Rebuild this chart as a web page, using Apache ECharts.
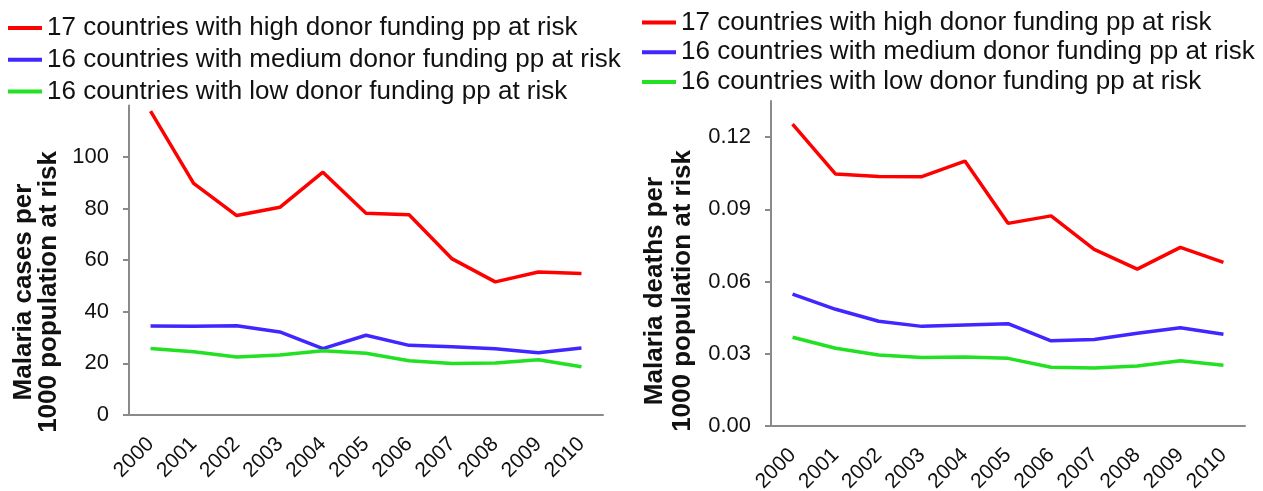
<!DOCTYPE html>
<html>
<head>
<meta charset="utf-8">
<script src="https://cdn.jsdelivr.net/npm/echarts@6/dist/echarts.min.js"></script>
<style>
html,body{margin:0;padding:0;background:#fff;}
#c{width:1263px;height:491px;}
</style>
</head>
<body>
<div id="c"></div>
<script>
const years = ['2000','2001','2002','2003','2004','2005','2006','2007','2008','2009','2010'];
const seriesNames = [
  '17 countries with high donor funding pp at risk',
  '16 countries with medium donor funding pp at risk',
  '16 countries with low donor funding pp at risk'
];
// Malaria cases per 1000 population at risk
const casesHigh   = [117.8, 89.8, 77.3, 80.5, 94.1, 78.2, 77.6, 60.5, 51.6, 55.4, 54.8];
const casesMedium = [34.5, 34.4, 34.6, 32.2, 25.7, 30.9, 27.0, 26.5, 25.7, 24.1, 26.0];
const casesLow    = [25.8, 24.5, 22.5, 23.3, 24.9, 23.9, 21.0, 20.0, 20.2, 21.4, 18.7];
// Malaria deaths per 1000 population at risk
const deathsHigh   = [0.1254, 0.1047, 0.1037, 0.1036, 0.1101, 0.0842, 0.0873, 0.0734, 0.0652, 0.0742, 0.0680];
const deathsMedium = [0.0548, 0.0485, 0.0435, 0.0414, 0.0420, 0.0425, 0.0354, 0.0359, 0.0385, 0.0408, 0.0381];
const deathsLow    = [0.0369, 0.0323, 0.0295, 0.0285, 0.0287, 0.0281, 0.0244, 0.0241, 0.0249, 0.0271, 0.0252];
const leftTitle = 'Malaria cases per\n1000 population at risk';
const rightTitle = 'Malaria deaths per\n1000 population at risk';

const colors = ['#ff0000', '#4026ff', '#22e022'];
const FONT = 'Liberation Sans, Arial, Helvetica, sans-serif';

const chart = echarts.init(document.getElementById('c'));

function xAxis(gi) {
  return {
    type: 'category', gridIndex: gi, data: years, boundaryGap: true,
    axisLine: {lineStyle: {color: '#8a8a8a', width: 2}},
    axisTick: {show: false},
    axisLabel: {rotate: 45, fontSize: 21, color: '#111', fontFamily: FONT, margin: 26, interval: 0}
  };
}
function yAxis(gi, max, interval, fmt) {
  return {
    type: 'value', gridIndex: gi, min: 0, max: max, interval: interval,
    splitLine: {show: false},
    axisLine: {show: true, lineStyle: {color: '#8a8a8a', width: 2}},
    axisTick: {show: true, length: 6, lineStyle: {color: '#8a8a8a', width: 2}},
    axisLabel: {fontSize: 22, color: '#111', fontFamily: FONT, margin: 20, showMaxLabel: false, formatter: fmt}
  };
}
function line(name, data, ci, gi) {
  return {
    name: name, type: 'line', data: data, xAxisIndex: gi, yAxisIndex: gi,
    symbol: 'none', lineStyle: {color: colors[ci], width: 3.5}, itemStyle: {color: colors[ci]},
    animation: false
  };
}
function legend(left, top, gap) {
  return {
    orient: 'vertical', left: left, top: top, itemGap: gap, padding: 0,
    icon: 'rect', itemWidth: 34, itemHeight: 4,
    textStyle: {fontSize: 26, color: '#111', fontFamily: FONT, lineHeight: 28},
    data: seriesNames
  };
}

chart.setOption({
  backgroundColor: '#fff',
  animation: false,
  legend: [legend(8, 14, 3.7), legend(642, 8.5, 1.7)],
  grid: [
    {left: 129, top: 105.4, width: 474, bottom: 76, containLabel: false, outerBoundsMode: 'none'},
    {left: 771, top: 101.1, width: 474, bottom: 65, containLabel: false, outerBoundsMode: 'none'}
  ],
  xAxis: [xAxis(0), xAxis(1)],
  yAxis: [
    yAxis(0, 120, 20, v => String(v)),
    yAxis(1, 0.135, 0.03, v => v.toFixed(2))
  ],
  series: [
    line(seriesNames[0], casesHigh, 0, 0),
    line(seriesNames[1], casesMedium, 1, 0),
    line(seriesNames[2], casesLow, 2, 0),
    line(seriesNames[0], deathsHigh, 0, 1),
    line(seriesNames[1], deathsMedium, 1, 1),
    line(seriesNames[2], deathsLow, 2, 1)
  ],
  graphic: [
    {type: 'text', x: 36, y: 292, rotation: Math.PI / 2,
     style: {text: leftTitle, font: 'bold 26px ' + FONT, fill: '#111', align: 'center', verticalAlign: 'middle', lineHeight: 25}},
    {type: 'text', x: 669, y: 291, rotation: Math.PI / 2,
     style: {text: rightTitle, font: 'bold 26px ' + FONT, fill: '#111', align: 'center', verticalAlign: 'middle', lineHeight: 28}}
  ]
});
</script>
</body>
</html>
